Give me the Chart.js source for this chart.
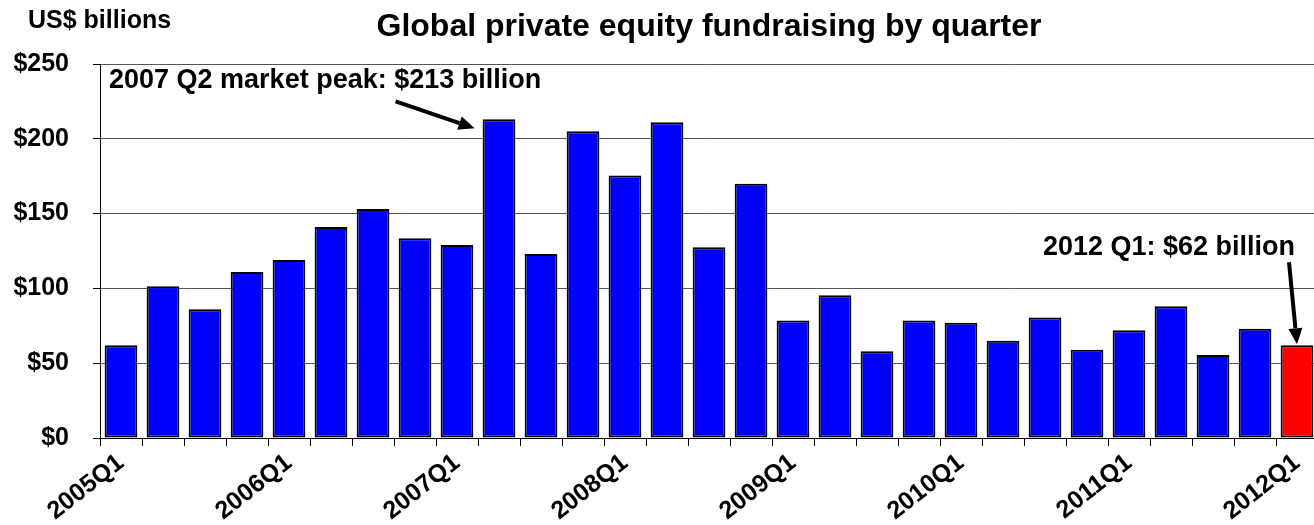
<!DOCTYPE html>
<html>
<head>
<meta charset="utf-8">
<title>Global private equity fundraising by quarter</title>
<script src="https://cdn.jsdelivr.net/npm/chart.js@4.4.1/dist/chart.umd.min.js"></script>
<style>
  html, body { margin: 0; padding: 0; background: #fff; overflow: hidden; }
  #wrap { position: relative; width: 1318px; height: 525px; }
</style>
</head>
<body>
<div id="wrap"><canvas id="fundraising"></canvas></div>
<script>
const quarters = [
    '2005Q1', '2005Q2', '2005Q3', '2005Q4',
    '2006Q1', '2006Q2', '2006Q3', '2006Q4',
    '2007Q1', '2007Q2', '2007Q3', '2007Q4',
    '2008Q1', '2008Q2', '2008Q3', '2008Q4',
    '2009Q1', '2009Q2', '2009Q3', '2009Q4',
    '2010Q1', '2010Q2', '2010Q3', '2010Q4',
    '2011Q1', '2011Q2', '2011Q3', '2011Q4',
    '2012Q1',
];

// US$ billions raised in each quarter
const fundsRaised = [
    62, 101.5, 86, 111,
    119, 141, 153, 133.5,
    129, 213, 123, 205,
    175.5, 211, 127.5, 170,
    78.5, 95.5, 58, 78.5,
    77, 65, 80.5, 59,
    72, 88, 55.5, 73,
    62,
];

const yTickValues = [0, 50, 100, 150, 200, 250];
const peakQuarter = '2007Q2';
const latestQuarter = '2012Q1';

const FONT = 'Arial, "Liberation Sans", sans-serif';

const barColors = quarters.map(q => (q === latestQuarter ? '#ff0000' : '#0000ff'));

function drawArrow(ctx, x1, y1, x2, y2) {
    const ang = Math.atan2(y2 - y1, x2 - x1);
    const headLen = 16;
    const headHalf = 7;
    const bx = x2 - headLen * Math.cos(ang);
    const by = y2 - headLen * Math.sin(ang);
    ctx.beginPath();
    ctx.moveTo(x1, y1);
    ctx.lineTo(bx, by);
    ctx.lineWidth = 4;
    ctx.strokeStyle = '#000';
    ctx.stroke();
    ctx.beginPath();
    ctx.moveTo(x2, y2);
    ctx.lineTo(bx + headHalf * Math.sin(ang), by - headHalf * Math.cos(ang));
    ctx.lineTo(bx - headHalf * Math.sin(ang), by + headHalf * Math.cos(ang));
    ctx.closePath();
    ctx.fillStyle = '#000';
    ctx.fill();
}

// title, unit label and the two callouts
const notes = {
    id: 'notes',
    afterDraw(chart) {
        const ctx = chart.ctx;
        const area = chart.chartArea;
        const bars = chart.getDatasetMeta(0).data;
        ctx.save();
        ctx.fillStyle = '#000';
        ctx.textBaseline = 'alphabetic';

        ctx.font = 'bold 32px ' + FONT;
        ctx.textAlign = 'center';
        ctx.fillText('Global private equity fundraising by quarter', (area.left + area.right) / 2, 36);

        ctx.font = 'bold 25px ' + FONT;
        ctx.textAlign = 'left';
        ctx.fillText('US$ billions', 28, 28);

        const pi = quarters.indexOf(peakQuarter);
        const peak = bars[pi];
        ctx.font = 'bold 27px ' + FONT;
        ctx.fillText('2007 Q2 market peak: $' + fundsRaised[pi] + ' billion', 109, 88);
        const px = peak.x - peak.width / 2 - 8;
        const py = peak.y + 9;
        drawArrow(ctx, px - 79, py - 27, px, py);

        const li = quarters.indexOf(latestQuarter);
        const last = bars[li];
        ctx.fillStyle = '#000';
        ctx.textAlign = 'right';
        ctx.fillText('2012 Q1: $' + fundsRaised[li] + ' billion', 1295, 255);
        drawArrow(ctx, last.x - 8, last.y - 83, last.x, last.y - 1);

        ctx.restore();
    },
};

new Chart(document.getElementById('fundraising'), {
    type: 'bar',
    data: {
        labels: quarters,
        datasets: [
            {
                data: fundsRaised,
                backgroundColor: barColors,
                borderColor: '#000',
                borderWidth: 2,
                borderSkipped: false,
                barPercentage: 0.78,
                categoryPercentage: 1,
            },
        ],
    },
    options: {
        responsive: true,
        maintainAspectRatio: false,
        devicePixelRatio: 1,
        animation: false,
        layout: {
            padding: { top: 64, right: 0, bottom: 0, left: 0 },
        },
        scales: {
            x: {
                offset: true,
                grid: {
                    offset: true,
                    drawOnChartArea: false,
                    tickLength: 8,
                    color: '#000',
                },
                border: { color: '#000', width: 1 },
                ticks: {
                    autoSkip: false,
                    maxRotation: 38,
                    minRotation: 38,
                    padding: 2,
                    color: '#000',
                    font: { family: FONT, size: 25, weight: 'bold' },
                    callback: (value, index) => (index % 4 === 0 ? quarters[index] : ''),
                },
                afterFit: scale => {
                    scale.height = 87;
                },
            },
            y: {
                min: 0,
                max: 250,
                afterBuildTicks: scale => {
                    scale.ticks = yTickValues.map(v => ({ value: v }));
                },
                grid: {
                    color: '#555',
                    tickColor: '#000',
                    tickLength: 7,
                },
                border: { color: '#000', width: 1 },
                ticks: {
                    padding: 24,
                    color: '#000',
                    font: { family: FONT, size: 25, weight: 'bold' },
                    callback: v => '$' + v,
                },
                afterFit: scale => {
                    scale.width = 100;
                },
            },
        },
        plugins: {
            legend: { display: false },
            tooltip: { enabled: false },
            title: { display: false },
        },
    },
    plugins: [notes],
});
</script>
</body>
</html>
